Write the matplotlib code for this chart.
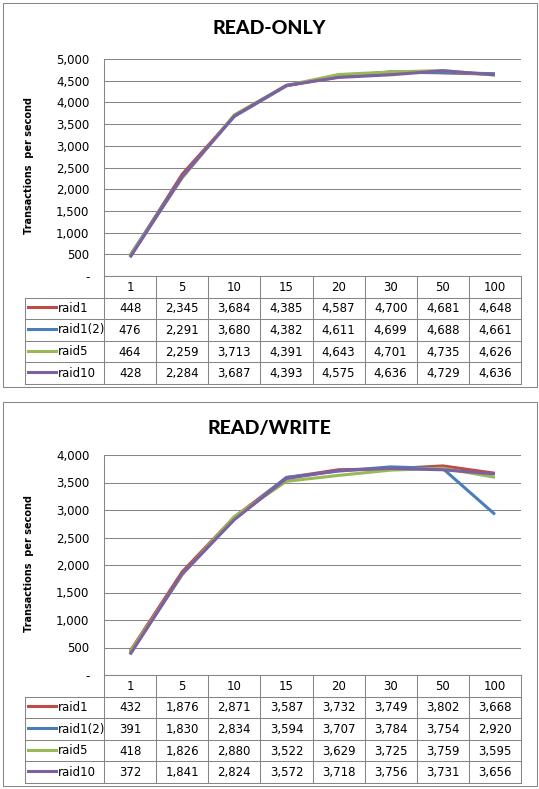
import matplotlib
matplotlib.use("Agg")
import matplotlib.pyplot as plt
from matplotlib.lines import Line2D
from matplotlib.patches import Rectangle

# categories (clients)
clients = ["1", "5", "10", "15", "20", "30", "50", "100"]
series_names = ["raid1", "raid1(2)", "raid5", "raid10"]
colors = ["#BE4B48", "#4A7EBB", "#98B954", "#7D60A0"]

# READ-ONLY transactions per second
ro_raid1 = [448, 2345, 3684, 4385, 4587, 4700, 4681, 4648]
ro_raid1_2 = [476, 2291, 3680, 4382, 4611, 4699, 4688, 4661]
ro_raid5 = [464, 2259, 3713, 4391, 4643, 4701, 4735, 4626]
ro_raid10 = [428, 2284, 3687, 4393, 4575, 4636, 4729, 4636]

# READ/WRITE transactions per second
rw_raid1 = [432, 1876, 2871, 3587, 3732, 3749, 3802, 3668]
rw_raid1_2 = [391, 1830, 2834, 3594, 3707, 3784, 3754, 2920]
rw_raid5 = [418, 1826, 2880, 3522, 3629, 3725, 3759, 3595]
rw_raid10 = [372, 1841, 2824, 3572, 3718, 3756, 3731, 3656]

W, H = 539, 789
GRID = "#868686"
FONT = "DejaVu Sans"
FS = 8.5


def fx(x):
    return x / W


def fy(y):
    return 1 - y / H


def hline(fig, x0, x1, y):
    fig.add_artist(Line2D([fx(x0), fx(x1)], [fy(y), fy(y)], color=GRID, lw=0.75,
                          transform=fig.transFigure))


def vline(fig, x, y0, y1):
    fig.add_artist(Line2D([fx(x), fx(x)], [fy(y0), fy(y1)], color=GRID, lw=0.75,
                          transform=fig.transFigure))


def draw_panel(fig, top, title, ymax, plot_top, plot_bottom, data):
    # outer frame
    fig.add_artist(Rectangle((fx(3), fy(top + 384)), 534 / W, 384 / H, fill=False,
                             ec=GRID, lw=0.75, transform=fig.transFigure))
    fig.text(fx(269), fy(top + 26), title, ha="center", va="center",
             fontsize=14, fontweight="black", family="Lato")

    left, right = 104, 521
    ax = fig.add_axes([fx(left), fy(plot_bottom), (right - left) / W,
                       (plot_bottom - plot_top) / H])
    for name, vals, c in zip(series_names, data, colors):
        ax.plot(range(len(clients)), vals, color=c, lw=2.2, solid_capstyle="butt")
    ax.set_xlim(-0.5, len(clients) - 0.5)
    ax.set_ylim(0, ymax)
    ticks = list(range(0, ymax + 1, 500))
    ax.set_yticks(ticks)
    ax.set_yticklabels(["-" if t == 0 else f"{t:,}" for t in ticks],
                       fontsize=FS, family=FONT)
    ax.tick_params(axis="y", length=0, pad=10.5)
    ax.set_xticks([])
    ax.yaxis.grid(True, color=GRID, lw=0.75)
    ax.set_axisbelow(True)
    for s in ["top", "right", "bottom"]:
        ax.spines[s].set_visible(False)
    ax.spines["left"].set_color(GRID)
    ax.spines["left"].set_linewidth(0.75)

    fig.text(fx(29), fy((plot_top + plot_bottom) / 2 - 2), "Transactions  per second",
             rotation=90, ha="center", va="center", fontsize=7,
             fontweight="bold", family=FONT)

    # data table
    colw = (right - left) / len(clients)
    row_h = (top + 381 - plot_bottom) / 5
    rows_y = [plot_bottom + i * row_h for i in range(6)]
    hline(fig, left, right, rows_y[0])
    for yy in rows_y[1:]:
        hline(fig, 25, right, yy)
    for i in range(len(clients) + 1):
        vline(fig, left + i * colw, rows_y[0], rows_y[-1])
    vline(fig, 25, rows_y[1], rows_y[-1])

    for i, cl in enumerate(clients):
        fig.text(fx(left + (i + 0.5) * colw), fy(rows_y[0] + row_h / 2 + 0.5), cl,
                 ha="center", va="center", fontsize=FS, family=FONT)
    for r, (name, vals, c) in enumerate(zip(series_names, data, colors)):
        yc = rows_y[r + 1] + row_h / 2
        fig.add_artist(Line2D([fx(28), fx(56)], [fy(yc - 1), fy(yc - 1)], color=c,
                              lw=2.2, transform=fig.transFigure))
        fig.text(fx(57.5), fy(yc), name, ha="left", va="center", fontsize=FS,
                 family=FONT)
        for i, v in enumerate(vals):
            fig.text(fx(left + (i + 0.5) * colw), fy(yc + 0.5), f"{v:,}",
                     ha="center", va="center", fontsize=FS, family=FONT)


fig = plt.figure(figsize=(W / 100, H / 100), dpi=100)
draw_panel(fig, 3, "READ-ONLY", 5000, 59, 276,
           [ro_raid1, ro_raid1_2, ro_raid5, ro_raid10])
draw_panel(fig, 402, "READ/WRITE", 4000, 455, 675,
           [rw_raid1, rw_raid1_2, rw_raid5, rw_raid10])

fig.savefig("out.png", dpi=100)
